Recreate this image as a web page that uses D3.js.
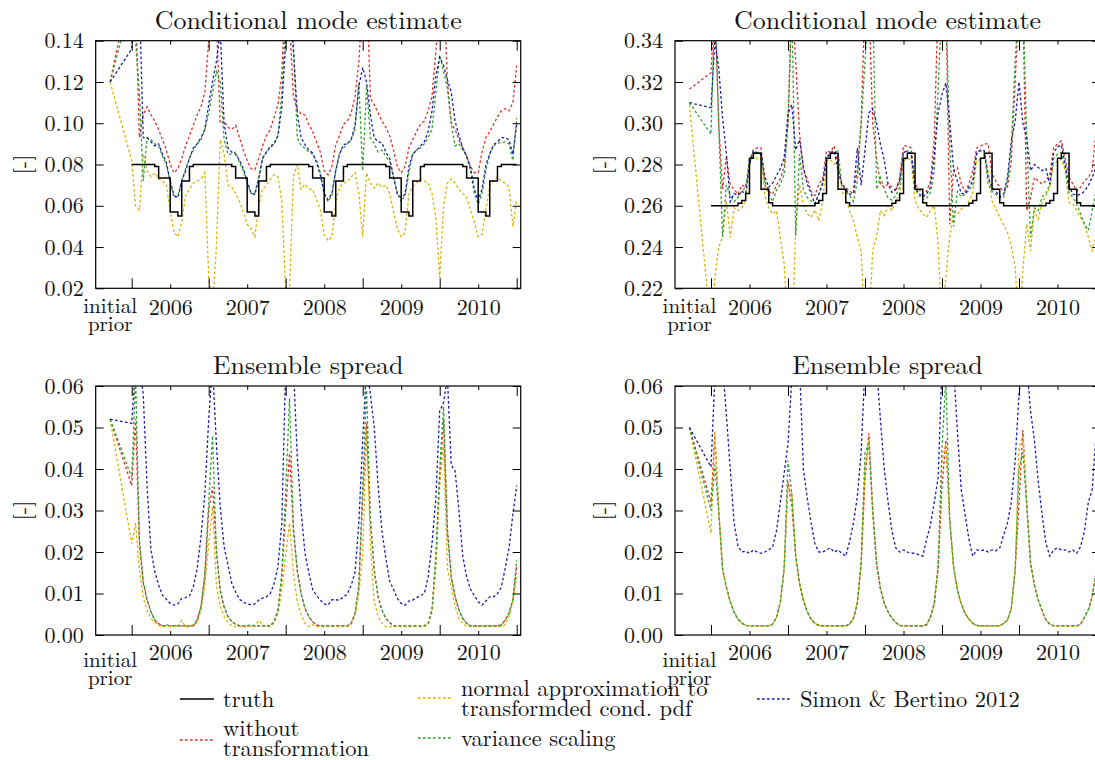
<!DOCTYPE html>
<html>
<head>
<meta charset="utf-8">
<script src="https://cdn.jsdelivr.net/npm/d3@7"></script>
<style>
  body { margin: 0; background: #fff; }
  svg { display: block; }
</style>
</head>
<body>
<div id="chart"></div>
<script>
const width = 1095;
const height = 760;

// Sampling dates in decimal years, the first one is the initial prior
const times = [2005.72,
  2006.00,2006.05,2006.10,2006.15,2006.20,2006.25,2006.30,2006.35,2006.40,2006.45,2006.50,2006.55,2006.60,2006.65,2006.70,2006.75,2006.80,2006.85,2006.90,2006.95,
  2007.00,2007.05,2007.10,2007.15,2007.20,2007.25,2007.30,2007.35,2007.40,2007.45,2007.50,2007.55,2007.60,2007.65,2007.70,2007.75,2007.80,2007.85,2007.90,2007.95,
  2008.00,2008.05,2008.10,2008.15,2008.20,2008.25,2008.30,2008.35,2008.40,2008.45,2008.50,2008.55,2008.60,2008.65,2008.70,2008.75,2008.80,2008.85,2008.90,2008.95,
  2009.00,2009.05,2009.10,2009.15,2009.20,2009.25,2009.30,2009.35,2009.40,2009.45,2009.50,2009.55,2009.60,2009.65,2009.70,2009.75,2009.80,2009.85,2009.90,2009.95,
  2010.00,2010.05,2010.10,2010.15,2010.20,2010.25,2010.30,2010.35,2010.40,2010.45,2010.50,2010.55,2010.60,2010.65,2010.70,2010.75,2010.80,2010.85,2010.90,2010.95,
  2011.00];

const yearTicks = [2006, 2007, 2008, 2009, 2010, 2011];
const yearLabelPos = [2006.5, 2007.5, 2008.5, 2009.5, 2010.5];
const yearLabels = ['2006', '2007', '2008', '2009', '2010'];

const modeTicksLeft = [0.02, 0.04, 0.06, 0.08, 0.10, 0.12, 0.14];
const modeTicksRight = [0.22, 0.24, 0.26, 0.28, 0.30, 0.32, 0.34];
const spreadTicks = [0.00, 0.01, 0.02, 0.03, 0.04, 0.05, 0.06];

const legendNames = [['truth'], ['without', 'transformation'], ['normal approximation to', 'transformded cond. pdf'], ['variance scaling'], ['Simon & Bertino 2012']];

// ---- conditional mode, left column ----
const truthModeL = [null,
  0.08,0.08,0.08,0.08,0.08,0.08,0.079,0.0735,0.0735,0.0735,0.057,0.057,0.055,0.072,0.072,0.079,0.08,0.08,0.08,0.08,
  0.08,0.08,0.08,0.08,0.08,0.08,0.079,0.0735,0.0735,0.0735,0.057,0.057,0.055,0.072,0.072,0.079,0.08,0.08,0.08,0.08,
  0.08,0.08,0.08,0.08,0.08,0.08,0.079,0.0735,0.0735,0.0735,0.057,0.057,0.055,0.072,0.072,0.079,0.08,0.08,0.08,0.08,
  0.08,0.08,0.08,0.08,0.08,0.08,0.079,0.0735,0.0735,0.0735,0.057,0.057,0.055,0.072,0.072,0.079,0.08,0.08,0.08,0.08,
  0.08,0.08,0.08,0.08,0.08,0.08,0.079,0.0735,0.0735,0.0735,0.057,0.057,0.055,0.072,0.072,0.079,0.08,0.08,0.08,0.08,
  0.08];
const rawModeL = [0.12,
  0.17,0.16,0.093,0.104,0.108,0.104,0.101,0.097,0.092,0.087,0.080,0.076,0.078,0.083,0.089,0.094,0.099,0.104,0.108,0.115,
  0.14,0.17,0.15,0.10,0.101,0.098,0.097,0.099,0.093,0.087,0.082,0.078,0.0775,0.083,0.089,0.094,0.097,0.103,0.109,0.124,
  0.17,0.15,0.113,0.107,0.1045,0.104,0.0995,0.096,0.091,0.086,0.077,0.075,0.079,0.0897,0.094,0.0995,0.101,0.105,0.113,0.13,
  0.16,0.17,0.112,0.109,0.105,0.101,0.098,0.094,0.087,0.079,0.076,0.079,0.088,0.092,0.096,0.0995,0.101,0.106,0.113,0.135,
  0.16,0.17,0.12,0.10,0.097,0.092,0.088,0.084,0.079,0.076,0.076,0.086,0.093,0.096,0.0995,0.103,0.106,0.107,0.106,0.11,
  0.128];
const normModeL = [0.12,
  0.082,0.06,0.058,0.085,0.077,0.074,0.076,0.073,0.072,0.070,0.058,0.047,0.045,0.052,0.065,0.068,0.071,0.072,0.073,0.076,
  0.025,0.012,0.040,0.092,0.085,0.070,0.069,0.066,0.062,0.057,0.051,0.049,0.045,0.060,0.068,0.070,0.073,0.075,0.074,0.062,
  0.018,0.02,0.074,0.08,0.068,0.0704,0.068,0.068,0.063,0.058,0.046,0.043,0.045,0.062,0.069,0.071,0.0715,0.074,0.076,0.066,
  0.045,0.076,0.071,0.0685,0.071,0.069,0.070,0.066,0.057,0.049,0.045,0.047,0.0655,0.0695,0.071,0.073,0.072,0.071,0.066,0.054,
  0.025,0.06,0.071,0.073,0.071,0.068,0.066,0.064,0.058,0.052,0.045,0.046,0.058,0.070,0.072,0.074,0.072,0.071,0.069,0.050,
  0.063];
const varModeL = [0.12,
  0.16,0.14,0.115,0.072,0.093,0.092,0.090,0.089,0.084,0.080,0.071,0.064,0.0645,0.072,0.078,0.083,0.087,0.090,0.092,0.097,
  0.105,0.115,0.125,0.12,0.092,0.085,0.085,0.086,0.081,0.077,0.071,0.066,0.066,0.074,0.083,0.086,0.088,0.090,0.094,0.115,
  0.15,0.16,0.14,0.093,0.089,0.088,0.086,0.085,0.082,0.076,0.066,0.062,0.065,0.077,0.086,0.088,0.090,0.092,0.097,0.119,
  0.077,0.118,0.093,0.090,0.086,0.087,0.084,0.0815,0.074,0.066,0.062,0.065,0.076,0.085,0.087,0.088,0.090,0.093,0.097,0.115,
  0.133,0.125,0.117,0.10,0.089,0.090,0.087,0.084,0.077,0.066,0.0607,0.066,0.077,0.085,0.089,0.0905,0.0905,0.091,0.090,0.082,
  0.1025];
const simonModeL = [0.12,
  0.136,0.16,0.16,0.093,0.093,0.091,0.089,0.090,0.085,0.081,0.072,0.065,0.064,0.072,0.077,0.083,0.088,0.090,0.093,0.097,
  0.109,0.12,0.13,0.145,0.10,0.088,0.086,0.085,0.082,0.078,0.072,0.066,0.0655,0.073,0.083,0.086,0.089,0.090,0.094,0.108,
  0.14,0.16,0.135,0.105,0.093,0.0897,0.087,0.0856,0.081,0.075,0.066,0.063,0.066,0.077,0.085,0.0897,0.090,0.092,0.099,0.118,
  0.127,0.12,0.104,0.093,0.091,0.0905,0.086,0.083,0.074,0.0655,0.064,0.0655,0.079,0.085,0.087,0.089,0.091,0.096,0.106,0.123,
  0.132,0.128,0.121,0.115,0.101,0.094,0.088,0.084,0.0785,0.068,0.0625,0.068,0.080,0.085,0.0897,0.091,0.093,0.093,0.092,0.085,
  0.0995];

// ---- conditional mode, right column ----
const truthModeR = [null,
  0.26,0.26,0.26,0.26,0.26,0.26,0.26,0.2612,0.2625,0.266,0.283,0.2855,0.2855,0.268,0.268,0.2615,0.26,0.26,0.26,0.26,
  0.26,0.26,0.26,0.26,0.26,0.26,0.26,0.2612,0.2625,0.266,0.283,0.2855,0.2855,0.268,0.268,0.2615,0.26,0.26,0.26,0.26,
  0.26,0.26,0.26,0.26,0.26,0.26,0.26,0.2612,0.2625,0.266,0.283,0.2855,0.2855,0.268,0.268,0.2615,0.26,0.26,0.26,0.26,
  0.26,0.26,0.26,0.26,0.26,0.26,0.26,0.2612,0.2625,0.266,0.283,0.2855,0.2855,0.268,0.268,0.2615,0.26,0.26,0.26,0.26,
  0.26,0.26,0.26,0.26,0.26,0.26,0.26,0.2612,0.2625,0.266,0.283,0.2855,0.2855,0.268,0.268,0.2615,0.26,0.26,0.26,0.26,
  0.26];
const rawModeR = [0.3165,
  0.3245,0.36,0.30,0.268,0.284,0.270,0.268,0.2656,0.270,0.269,0.280,0.2874,0.288,0.288,0.272,0.267,0.2656,0.270,0.273,0.279,
  0.30,0.36,0.33,0.295,0.277,0.273,0.267,0.265,0.2705,0.273,0.2866,0.286,0.289,0.28,0.270,0.269,0.267,0.266,0.277,0.30,
  0.36,0.36,0.30,0.283,0.2705,0.269,0.2705,0.269,0.267,0.2737,0.289,0.289,0.288,0.2705,0.268,0.2656,0.267,0.272,0.293,0.36,
  0.36,0.36,0.251,0.277,0.2785,0.2705,0.267,0.2705,0.277,0.288,0.289,0.290,0.290,0.2753,0.272,0.269,0.267,0.269,0.2817,0.32,
  0.36,0.36,0.2576,0.264,0.2737,0.272,0.2705,0.272,0.2753,0.288,0.29,0.2914,0.283,0.2737,0.2705,0.267,0.269,0.272,0.2737,0.277,
  0.296];
const normModeR = [0.309,
  0.20,0.225,0.240,0.2447,0.262,0.2447,0.259,0.2576,0.259,0.2624,0.280,0.285,0.2825,0.283,0.265,0.259,0.256,0.2576,0.2447,0.2318,
  0.20,0.19,0.25,0.27,0.2608,0.256,0.2544,0.258,0.2527,0.262,0.2817,0.2825,0.280,0.281,0.267,0.264,0.2576,0.2527,0.2447,0.238,
  0.20,0.20,0.2383,0.2447,0.2576,0.2552,0.26,0.2576,0.2624,0.2656,0.2817,0.283,0.282,0.2624,0.2584,0.2563,0.2544,0.2576,0.26,0.2415,
  0.20,0.2254,0.2447,0.2568,0.256,0.2584,0.26,0.2624,0.2664,0.2817,0.2825,0.2833,0.277,0.2624,0.2584,0.2544,0.2508,0.2471,0.2407,0.2302,
  0.20,0.2286,0.2511,0.2383,0.2576,0.2536,0.2616,0.2648,0.2689,0.28,0.2817,0.2825,0.277,0.2616,0.261,0.2576,0.2544,0.251,0.2447,0.2383,
  0.245];
const varModeR = [0.310,
  0.2947,0.36,0.30,0.245,0.270,0.265,0.262,0.264,0.267,0.269,0.283,0.2858,0.2855,0.2858,0.270,0.266,0.262,0.2675,0.2705,0.275,
  0.30,0.36,0.2455,0.285,0.268,0.264,0.2624,0.261,0.2656,0.2705,0.283,0.285,0.2858,0.2866,0.2697,0.267,0.265,0.262,0.272,0.30,
  0.33,0.36,0.36,0.268,0.2737,0.268,0.2637,0.2627,0.265,0.269,0.2858,0.2866,0.286,0.268,0.265,0.263,0.2637,0.2664,0.277,0.317,
  0.36,0.36,0.29,0.25,0.267,0.2643,0.2656,0.2676,0.270,0.285,0.2866,0.2862,0.2705,0.267,0.2656,0.2637,0.264,0.272,0.288,0.33,
  0.36,0.36,0.293,0.2447,0.259,0.2576,0.2643,0.266,0.2705,0.283,0.285,0.2858,0.2785,0.2664,0.264,0.2608,0.256,0.2511,0.248,0.2576,
  0.267];
const simonModeR = [0.310,
  0.3075,0.34,0.327,0.303,0.285,0.262,0.266,0.265,0.267,0.266,0.280,0.2866,0.2858,0.285,0.274,0.269,0.271,0.2745,0.278,0.283,
  0.305,0.309,0.287,0.292,0.279,0.2705,0.266,0.261,0.2656,0.271,0.283,0.2858,0.2866,0.277,0.2705,0.268,0.2656,0.266,0.288,0.27,
  0.287,0.305,0.307,0.30,0.29,0.282,0.2705,0.2665,0.268,0.272,0.2858,0.2866,0.285,0.269,0.266,0.2643,0.2656,0.269,0.285,0.305,
  0.314,0.3195,0.301,0.2777,0.272,0.266,0.2656,0.269,0.272,0.2858,0.287,0.2866,0.2737,0.269,0.267,0.2643,0.2656,0.2737,0.2914,0.301,
  0.32,0.30,0.293,0.277,0.28,0.2785,0.277,0.278,0.2705,0.2858,0.2885,0.2895,0.28,0.2697,0.2656,0.265,0.2656,0.267,0.2697,0.2737,
  0.2785];

// ---- ensemble spread, left column ----
const rawSpreadL = [0.052,
  0.036,0.052,0.022,0.0124,0.0084,0.0056,0.0036,0.0027,0.0022,0.0022,0.0022,0.0022,0.0022,0.0022,0.0022,0.0022,0.0022,0.0036,0.0068,0.014,
  0.030,0.0357,0.0205,0.0108,0.0068,0.0044,0.0032,0.0026,0.0022,0.0022,0.0022,0.0022,0.0022,0.0022,0.0022,0.0022,0.0022,0.0032,0.006,0.014,
  0.030,0.0438,0.0253,0.0157,0.010,0.0064,0.0044,0.0032,0.0024,0.0022,0.0022,0.0022,0.0022,0.0022,0.0022,0.0022,0.0022,0.0028,0.0052,0.0116,
  0.0333,0.051,0.0277,0.0157,0.0092,0.006,0.004,0.003,0.0022,0.0022,0.0022,0.0022,0.0022,0.0022,0.0022,0.0022,0.0022,0.0028,0.006,0.018,
  0.038,0.0518,0.0253,0.014,0.0092,0.006,0.004,0.0028,0.0022,0.0022,0.0022,0.0022,0.0022,0.0022,0.0022,0.0022,0.0024,0.0036,0.0052,0.0084,
  0.0165];
const normSpreadL = [0.052,
  0.022,0.027,0.016,0.009,0.006,0.004,0.003,0.0022,0.002,0.002,0.002,0.002,0.002,0.0035,0.002,0.002,0.0025,0.003,0.006,0.012,
  0.022,0.031,0.012,0.007,0.0045,0.003,0.0022,0.002,0.002,0.002,0.002,0.002,0.002,0.0035,0.0025,0.002,0.002,0.003,0.005,0.011,
  0.019,0.027,0.015,0.008,0.005,0.0028,0.002,0.0025,0.002,0.002,0.002,0.002,0.002,0.002,0.002,0.002,0.002,0.0025,0.0045,0.01,
  0.019,0.050,0.022,0.008,0.0045,0.0028,0.002,0.002,0.002,0.002,0.002,0.002,0.002,0.002,0.002,0.002,0.002,0.0025,0.0055,0.016,
  0.036,0.046,0.016,0.0115,0.007,0.004,0.0028,0.002,0.002,0.002,0.002,0.002,0.002,0.002,0.002,0.002,0.002,0.0025,0.0045,0.008,
  0.014];
const varSpreadL = [0.052,
  0.038,0.062,0.023,0.013,0.0085,0.0056,0.0036,0.0027,0.0022,0.0025,0.0022,0.0022,0.0022,0.0022,0.0022,0.0022,0.0022,0.0036,0.0068,0.015,
  0.032,0.048,0.020,0.0105,0.0068,0.0044,0.0032,0.0026,0.0022,0.0022,0.0022,0.0025,0.0022,0.0022,0.0022,0.0022,0.0022,0.0032,0.006,0.015,
  0.035,0.057,0.026,0.0155,0.010,0.0064,0.0044,0.0032,0.0024,0.0022,0.0022,0.0022,0.0022,0.0022,0.0022,0.0022,0.0022,0.0028,0.0052,0.012,
  0.036,0.059,0.028,0.0155,0.0092,0.006,0.004,0.003,0.0022,0.0022,0.0022,0.0022,0.0022,0.0022,0.0022,0.0022,0.0022,0.0028,0.006,0.019,
  0.040,0.055,0.025,0.014,0.0092,0.006,0.004,0.0028,0.0022,0.0022,0.0022,0.0022,0.0022,0.0022,0.0022,0.0022,0.0024,0.0036,0.0052,0.0085,
  0.018];
const simonSpreadL = [0.052,
  0.051,0.065,0.065,0.058,0.0357,0.0205,0.0153,0.012,0.0096,0.0086,0.0076,0.0072,0.0075,0.0088,0.009,0.0094,0.0116,0.016,0.0237,0.034,
  0.052,0.065,0.046,0.031,0.0213,0.0169,0.0124,0.0104,0.0086,0.0079,0.0075,0.0073,0.0075,0.0084,0.0089,0.0092,0.010,0.0124,0.0165,0.027,
  0.065,0.068,0.065,0.043,0.030,0.0197,0.015,0.011,0.0095,0.0084,0.0075,0.0072,0.0085,0.0085,0.0084,0.0092,0.0098,0.012,0.015,0.027,
  0.047,0.065,0.058,0.050,0.036,0.025,0.0185,0.013,0.011,0.0088,0.0076,0.0072,0.0082,0.0084,0.009,0.0095,0.010,0.014,0.022,0.033,
  0.054,0.056,0.062,0.041,0.0395,0.030,0.019,0.014,0.011,0.0095,0.008,0.0072,0.0082,0.0092,0.0092,0.010,0.0115,0.016,0.021,0.029,
  0.036];

// ---- ensemble spread, right column ----
const rawSpreadR = [0.05,
  0.032,0.048,0.030,0.016,0.0115,0.008,0.0055,0.0038,0.0029,0.0023,0.0022,0.0022,0.0022,0.0022,0.0022,0.0022,0.0026,0.0042,0.0078,0.016,
  0.037,0.031,0.019,0.0124,0.0084,0.0056,0.0038,0.0028,0.0023,0.0022,0.0022,0.0022,0.0022,0.0022,0.0022,0.0022,0.0026,0.004,0.0076,0.0173,
  0.0373,0.0486,0.030,0.0173,0.0112,0.0076,0.0056,0.004,0.003,0.0023,0.0022,0.0022,0.0022,0.0022,0.0022,0.0022,0.0025,0.0043,0.0076,0.0165,
  0.0357,0.047,0.0277,0.0165,0.0108,0.0075,0.0052,0.0038,0.0028,0.0023,0.0022,0.0022,0.0022,0.0022,0.0022,0.0022,0.0028,0.0036,0.0064,0.0157,
  0.0317,0.0494,0.0317,0.0173,0.012,0.0084,0.0059,0.0036,0.0026,0.0022,0.0022,0.0022,0.0022,0.0022,0.0022,0.0022,0.0026,0.0043,0.006,0.0092,
  0.0149];
const normSpreadR = [0.05,
  0.0245,0.049,0.030,0.016,0.0115,0.008,0.0055,0.0038,0.0029,0.0023,0.0022,0.0022,0.0022,0.0022,0.0022,0.0022,0.0026,0.0042,0.0078,0.016,
  0.036,0.034,0.019,0.0124,0.0084,0.0056,0.0038,0.0028,0.0023,0.0022,0.0022,0.0022,0.0022,0.0022,0.0022,0.0022,0.0026,0.004,0.0076,0.0173,
  0.040,0.047,0.030,0.0173,0.0112,0.0076,0.0056,0.004,0.003,0.0023,0.0022,0.0022,0.0022,0.0022,0.0022,0.0022,0.0025,0.0043,0.0076,0.0165,
  0.042,0.046,0.0277,0.0165,0.0108,0.0075,0.0052,0.0038,0.0028,0.0023,0.0022,0.0022,0.0022,0.0022,0.0022,0.0022,0.0028,0.0036,0.0064,0.0157,
  0.045,0.048,0.0317,0.0173,0.012,0.0084,0.0059,0.0036,0.0026,0.0022,0.0022,0.0022,0.0022,0.0022,0.0022,0.0022,0.0026,0.0043,0.006,0.0092,
  0.0149];
const varSpreadR = [0.05,
  0.030,0.041,0.030,0.016,0.0115,0.008,0.0055,0.0038,0.0029,0.0023,0.0022,0.0022,0.0022,0.0022,0.0022,0.0022,0.0026,0.0042,0.0078,0.016,
  0.042,0.034,0.019,0.0124,0.0084,0.0056,0.0038,0.0028,0.0023,0.0022,0.0022,0.0022,0.0022,0.0022,0.0022,0.0022,0.0026,0.004,0.0076,0.0173,
  0.044,0.046,0.030,0.0173,0.0112,0.0076,0.0056,0.004,0.003,0.0023,0.0022,0.0022,0.0022,0.0022,0.0022,0.0022,0.0025,0.0043,0.0076,0.0165,
  0.045,0.062,0.0277,0.0165,0.0108,0.0075,0.0052,0.0038,0.0028,0.0023,0.0022,0.0022,0.0022,0.0022,0.0022,0.0022,0.0028,0.0036,0.0064,0.0157,
  0.040,0.044,0.0317,0.0173,0.012,0.0084,0.0059,0.0036,0.0026,0.0022,0.0022,0.0022,0.0022,0.0022,0.0022,0.0022,0.0026,0.0043,0.006,0.0092,
  0.015];
const simonSpreadR = [0.05,
  0.0405,0.062,0.065,0.065,0.053,0.040,0.027,0.0215,0.020,0.0202,0.0197,0.0205,0.020,0.0197,0.020,0.0205,0.0212,0.025,0.032,0.039,
  0.046,0.062,0.065,0.065,0.040,0.033,0.027,0.022,0.020,0.020,0.0205,0.021,0.020,0.0205,0.0197,0.019,0.0225,0.027,0.0333,0.044,
  0.065,0.065,0.065,0.065,0.052,0.040,0.032,0.025,0.021,0.020,0.0205,0.020,0.0197,0.0197,0.0193,0.019,0.023,0.0265,0.032,0.038,
  0.065,0.065,0.065,0.065,0.049,0.035,0.029,0.023,0.019,0.0205,0.0203,0.0205,0.020,0.0205,0.0203,0.021,0.024,0.027,0.032,0.042,
  0.058,0.065,0.065,0.054,0.047,0.037,0.029,0.022,0.019,0.0205,0.021,0.0205,0.0205,0.020,0.0205,0.0197,0.0213,0.025,0.032,0.035,
  0.048];

const colors = { truth: '#000', raw: '#e0302c', norm: '#dcb200', vari: '#30a030', simon: '#1c1ca8' };
const dash = '2.7,2.3';

const svg = d3.select('#chart').append('svg')
  .attr('width', width)
  .attr('height', height)
  .attr('font-family', '"Latin Modern Roman", "CMU Serif", "Liberation Serif", serif')
  .attr('fill', '#111');

// Same time axis for every panel: 2006 sits 36px inside the frame, 77px per year
const xDomain = [2005.5325, 2011.0519];

function drawPanel(p) {
  const x = d3.scaleLinear().domain(xDomain).range(p.xr);
  const y = d3.scaleLinear().domain(p.yd).range(p.yr);
  const left = p.xr[0], right = p.xr[1], top = p.yr[1], bottom = p.yr[0];

  svg.append('clipPath').attr('id', 'clip-' + p.id)
    .append('rect')
    .attr('x', left).attr('y', top)
    .attr('width', right - left).attr('height', bottom - top);

  const line = d3.line()
    .defined(d => d[1] != null)
    .x(d => x(d[0]))
    .y(d => y(d[1]));

  const plot = svg.append('g').attr('clip-path', `url(#clip-${p.id})`);
  p.series.forEach(s => {
    plot.append('path')
      .datum(times.map((t, i) => [t, s.values[i]]))
      .attr('fill', 'none')
      .attr('stroke', s.color)
      .attr('stroke-width', 1.3)
      .attr('stroke-dasharray', dash)
      .attr('d', line);
  });
  if (p.truth) {
    plot.append('path')
      .datum(times.map((t, i) => [t, p.truth[i]]))
      .attr('fill', 'none')
      .attr('stroke', colors.truth)
      .attr('stroke-width', 1.5)
      .attr('d', line.curve(d3.curveStepAfter));
  }

  // Axes: ticks point inward on all four sides
  const plain = g => g.attr('font-family', null).attr('font-size', null).call(g => g.select('.domain').remove());

  svg.append('g').attr('transform', `translate(0,${bottom})`)
    .call(d3.axisBottom(x).tickValues(yearTicks).tickSizeInner(-10).tickSizeOuter(0).tickFormat(''))
    .call(plain);
  svg.append('g').attr('transform', `translate(0,${top})`)
    .call(d3.axisTop(x).tickValues(yearTicks).tickSizeInner(-10).tickSizeOuter(0).tickFormat(''))
    .call(plain);
  svg.append('g').attr('transform', `translate(0,${top})`)
    .call(d3.axisTop(x).tickValues(yearLabelPos).tickSizeInner(-4).tickSizeOuter(0).tickFormat(''))
    .call(plain);
  const xl = svg.append('g').attr('transform', `translate(0,${bottom})`)
    .call(d3.axisBottom(x).tickValues(yearLabelPos).tickSizeInner(-4).tickSizeOuter(0)
      .tickPadding(p.labelPad).tickFormat((d, i) => yearLabels[i]))
    .call(plain);
  xl.selectAll('text').attr('font-size', 22).attr('fill', '#111');

  const fmt = d3.format('.2f');
  const yl = svg.append('g').attr('transform', `translate(${left},0)`)
    .call(d3.axisLeft(y).tickValues(p.ticks).tickSizeInner(-8).tickSizeOuter(0).tickPadding(12).tickFormat(fmt))
    .call(plain);
  yl.selectAll('text').attr('font-size', 22).attr('fill', '#111');
  svg.append('g').attr('transform', `translate(${right},0)`)
    .call(d3.axisRight(y).tickValues(p.ticks).tickSizeInner(-8).tickSizeOuter(0).tickFormat(''))
    .call(plain);

  svg.append('rect')
    .attr('x', left).attr('y', top)
    .attr('width', right - left).attr('height', bottom - top)
    .attr('fill', 'none').attr('stroke', '#000').attr('stroke-width', 1.2);

  // "initial prior" label under the first sample
  const ix = x(times[0]);
  svg.append('text')
    .attr('x', ix).attr('y', bottom + p.initPad)
    .attr('text-anchor', 'middle').attr('font-size', 21)
    .text('initial');
  svg.append('text')
    .attr('x', ix).attr('y', bottom + p.initPad + 18)
    .attr('text-anchor', 'middle').attr('font-size', 21)
    .text('prior');

  svg.append('text')
    .attr('x', (left + right) / 2)
    .attr('y', top - 12)
    .attr('text-anchor', 'middle')
    .attr('font-size', 26)
    .text(p.title);

  svg.append('text')
    .attr('transform', `translate(${left - 73},${(top + bottom) / 2}) rotate(-90)`)
    .attr('text-anchor', 'middle')
    .attr('dy', '0.35em')
    .attr('font-size', 22)
    .text('[-]');
}

const colL = [95.7, 520.7];
const colR = [675, 1100];
const rowTop = [288.3, 40.7];
const rowBottom = [635, 386];

drawPanel({ id: 'tl', xr: colL, yr: rowTop, yd: [0.02, 0.14], ticks: modeTicksLeft,
  title: 'Conditional mode estimate', labelPad: 11, initPad: 25, truth: truthModeL,
  series: [{ values: rawModeL, color: colors.raw }, { values: normModeL, color: colors.norm },
           { values: varModeL, color: colors.vari }, { values: simonModeL, color: colors.simon }] });
drawPanel({ id: 'tr', xr: colR, yr: rowTop, yd: [0.22, 0.34], ticks: modeTicksRight,
  title: 'Conditional mode estimate', labelPad: 11, initPad: 25, truth: truthModeR,
  series: [{ values: rawModeR, color: colors.raw }, { values: normModeR, color: colors.norm },
           { values: varModeR, color: colors.vari }, { values: simonModeR, color: colors.simon }] });
drawPanel({ id: 'bl', xr: colL, yr: rowBottom, yd: [0, 0.06], ticks: spreadTicks,
  title: 'Ensemble spread', labelPad: 9, initPad: 32,
  series: [{ values: rawSpreadL, color: colors.raw }, { values: normSpreadL, color: colors.norm },
           { values: varSpreadL, color: colors.vari }, { values: simonSpreadL, color: colors.simon }] });
drawPanel({ id: 'br', xr: colR, yr: rowBottom, yd: [0, 0.06], ticks: spreadTicks,
  title: 'Ensemble spread', labelPad: 9, initPad: 32,
  series: [{ values: rawSpreadR, color: colors.raw }, { values: normSpreadR, color: colors.norm },
           { values: varSpreadR, color: colors.vari }, { values: simonSpreadR, color: colors.simon }] });

// Legend: three columns, gnuplot style
const legendItems = [
  { name: legendNames[0], color: colors.truth, solid: true, x: 180, y: 699 },
  { name: legendNames[1], color: colors.raw, x: 180, y: 738 },
  { name: legendNames[2], color: colors.norm, x: 418, y: 698 },
  { name: legendNames[3], color: colors.vari, x: 418, y: 738 },
  { name: legendNames[4], color: colors.simon, x: 757, y: 699 }
];
const leg = svg.append('g').attr('class', 'legend');
legendItems.forEach(it => {
  leg.append('line')
    .attr('x1', it.x).attr('x2', it.x + 34)
    .attr('y1', it.y + (it.name.length > 1 && it.y > 720 ? 2 : 0))
    .attr('y2', it.y + (it.name.length > 1 && it.y > 720 ? 2 : 0))
    .attr('stroke', it.color)
    .attr('stroke-width', it.solid ? 1.5 : 1.3)
    .attr('stroke-dasharray', it.solid ? null : dash);
  it.name.forEach((s, i) => {
    leg.append('text')
      .attr('x', it.x + 43)
      .attr('y', it.y - (it.name.length - 1) * 10 + i * 20)
      .attr('dy', '0.35em')
      .attr('font-size', 22.5)
      .text(s);
  });
});
</script>
</body>
</html>
